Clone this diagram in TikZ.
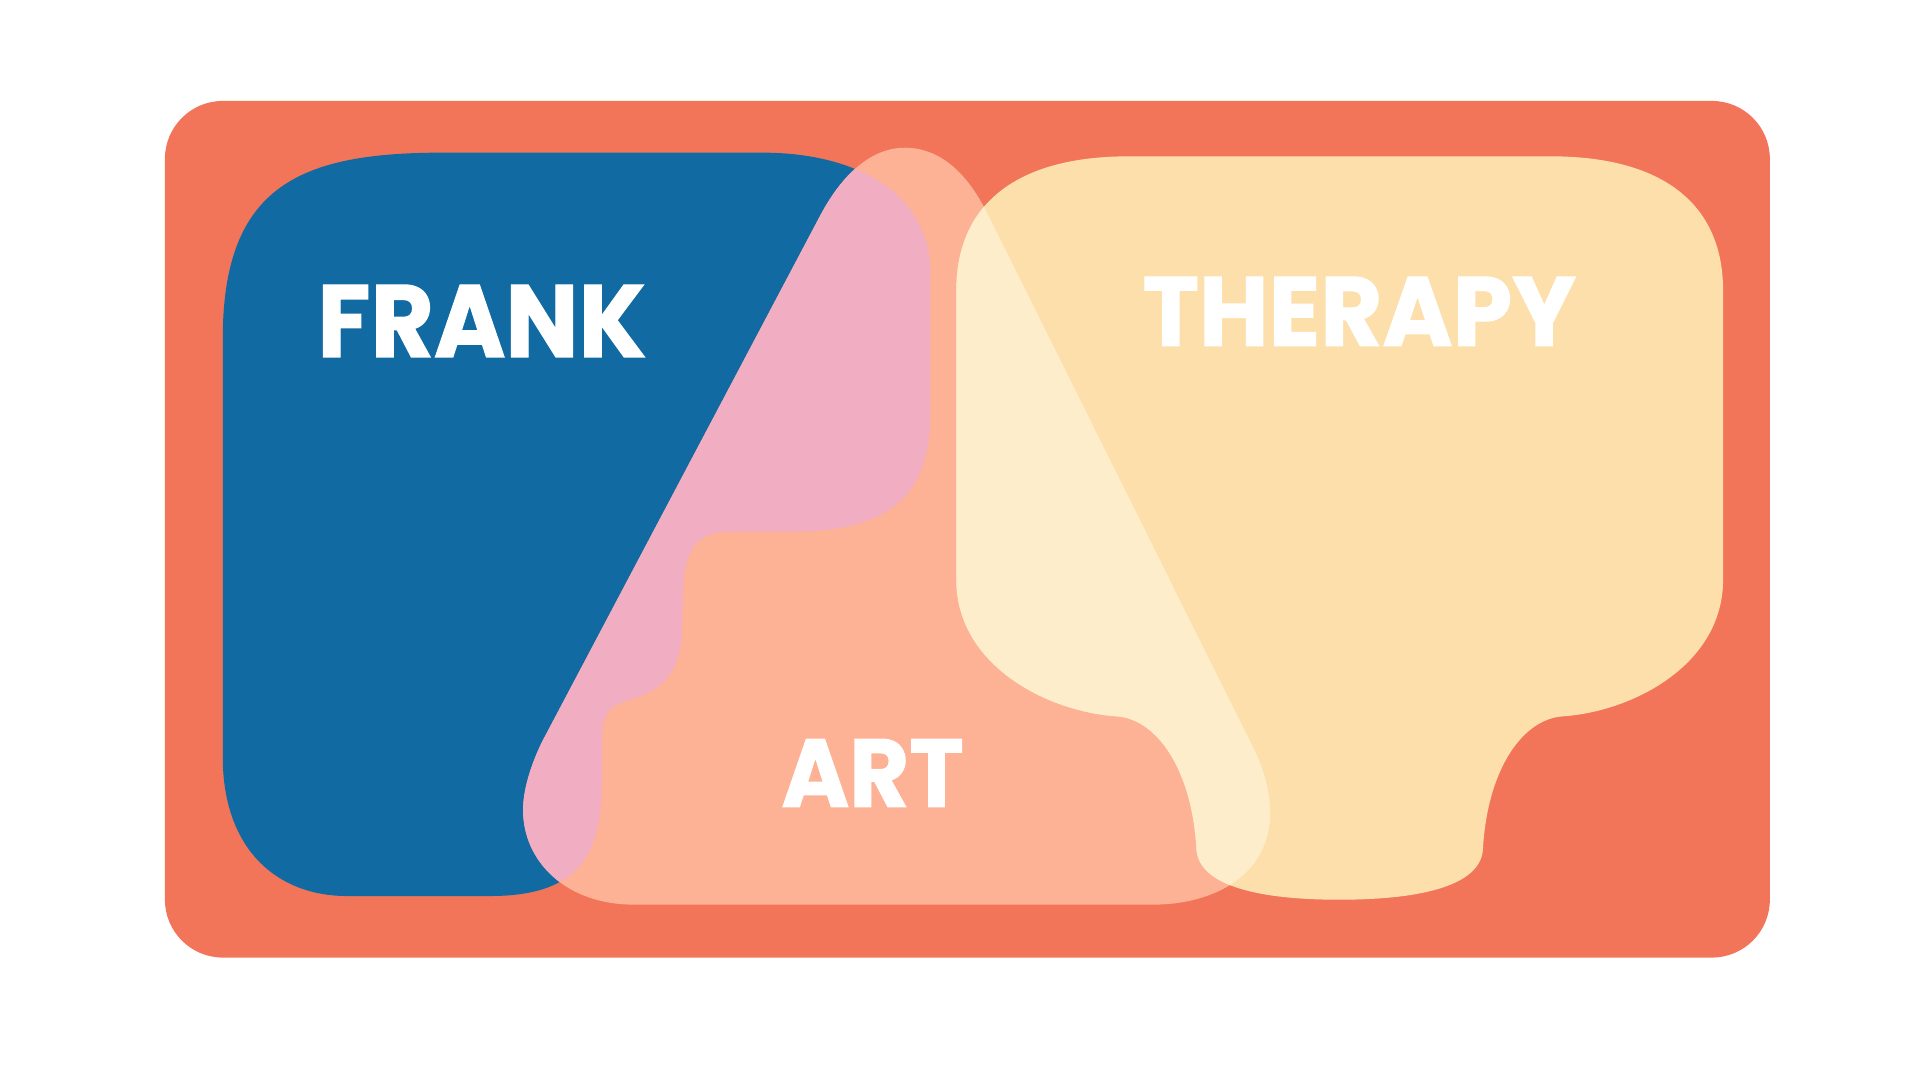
\documentclass[tikz,border=0pt]{standalone}
\usepackage{fontspec}
\newfontfamily\blobfont{Poppins}[FakeBold=1.2]
\definecolor{cardred}{HTML}{F2755A}
\definecolor{frankblue}{HTML}{126AA3}
\definecolor{artpeach}{HTML}{FDB195}
\definecolor{therapysand}{HTML}{FDDFAC}
\definecolor{frankart}{HTML}{F1AEC3}
\definecolor{arttherapy}{HTML}{FEEDCA}
\tikzset{
  word/.style={text=white, inner sep=0pt, font=\blobfont\bfseries}
}
\begin{document}
\begin{tikzpicture}[x=0.01cm, y=-0.01cm]
% Define the three blobs
\def\shapeFrank{(360,124) -- (619,124)
  .. controls (700,124) and (756,160) .. (756,222) -- (756,335)
  .. controls (756,410) and (715,432) .. (640,432) -- (592,432)
  .. controls (565,432) and (556,448) .. (555,480) -- (554,515)
  .. controls (552,550) and (535,562) .. (510,569)
  .. controls (492,574) and (489,585) .. (489,600) -- (489,636)
  .. controls (489,700) and (465,728) .. (398,728) -- (282,728)
  .. controls (225,728) and (181,690) .. (181,615) -- (181,275)
  .. controls (181,150) and (245,124) .. (360,124) -- cycle}
\def\shapeArt{(735,120)
  .. controls (758,120) and (782,133) .. (802,173) -- (1018,607)
  .. controls (1028,627) and (1032,645) .. (1032,660)
  .. controls (1032,712) and (985,735) .. (937,735) -- (515,735)
  .. controls (460,735) and (425,700) .. (425,658)
  .. controls (425,640) and (433,616) .. (444,596) -- (666,176)
  .. controls (687,136) and (712,120) .. (735,120) -- cycle}
\def\shapeTherapy{(917,127) -- (1260,127)
  .. controls (1350,127) and (1400,165) .. (1400,236) -- (1400,471)
  .. controls (1400,540) and (1327,578) .. (1270,582)
  .. controls (1237,584) and (1209,625) .. (1205,688)
  .. controls (1205,722) and (1147,731) .. (1088,731)
  .. controls (1030,731) and (972,722) .. (972,688)
  .. controls (968,625) and (940,584) .. (907,582)
  .. controls (850,578) and (777,540) .. (777,471) -- (777,236)
  .. controls (777,165) and (827,127) .. (917,127) -- cycle}
\useasboundingbox (0,0) rectangle (1560,877.5);
% Card
\fill[cardred, rounded corners=0.47cm] (134,82) rectangle (1438,778);
% Blobs
\fill[frankblue] \shapeFrank;
\fill[artpeach] \shapeArt;
\fill[therapysand] \shapeTherapy;
% Shade Frank ∩ Art
\begin{scope}
\clip \shapeFrank;
\fill[frankart] \shapeArt;
\end{scope}
% Shade Art ∩ Therapy
\begin{scope}
\clip \shapeArt;
\fill[arttherapy] \shapeTherapy;
\end{scope}
% Labels
\node[word] (frank) at (391.5,260.75) {\resizebox{2.67cm}{0.585cm}{FRANK}};
\node[word] (therapy) at (1104.5,253) {\resizebox{3.52cm}{0.56cm}{THERAPY}};
\node[word] (art) at (709,628) {\resizebox{1.48cm}{0.55cm}{ART}};
\end{tikzpicture}
\end{document}
